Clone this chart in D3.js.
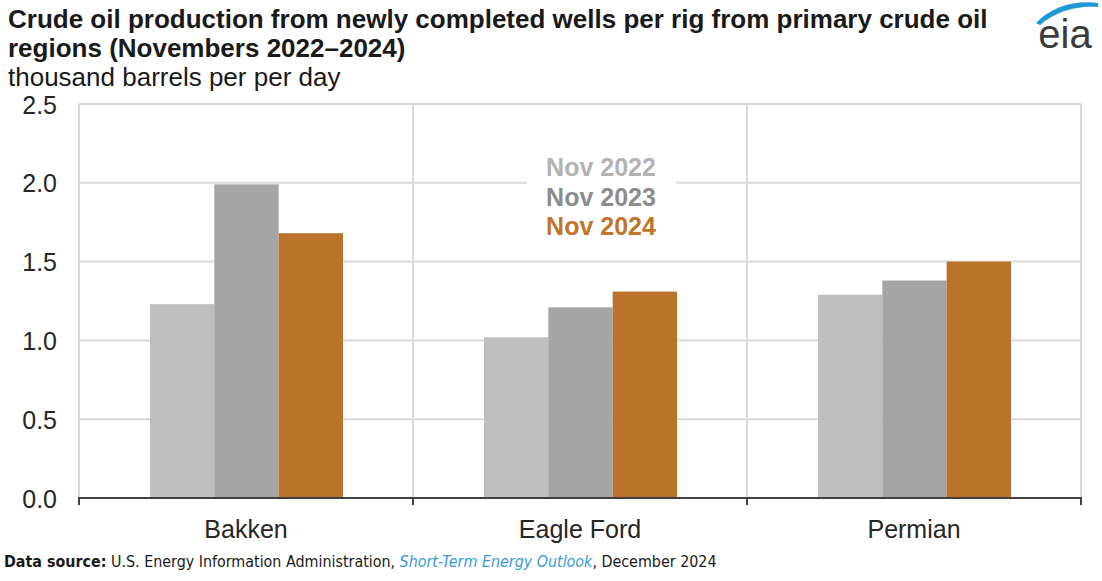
<!DOCTYPE html>
<html>
<head>
<meta charset="utf-8">
<script src="https://cdn.jsdelivr.net/npm/d3@7"></script>
<style>
  html, body { margin: 0; padding: 0; background: #fff; }
  svg { display: block; font-family: "Liberation Sans", Arial, Helvetica, sans-serif; }
</style>
</head>
<body>
<svg id="chart" width="1102" height="581"></svg>
<script>
// Regions and series
const regions = ["Bakken", "Eagle Ford", "Permian"];
const seriesNames = ["Nov 2022", "Nov 2023", "Nov 2024"];
const nov2022 = [1.23, 1.02, 1.29];
const nov2023 = [1.99, 1.21, 1.38];
const nov2024 = [1.68, 1.31, 1.50];
const yTicks = [0, 0.5, 1.0, 1.5, 2.0, 2.5];

const seriesValues = [nov2022, nov2023, nov2024];
const barColors = ["#bfbfbf", "#a5a5a5", "#bb722a"];
const legendColors = ["#b2b2b2", "#8c8c8c", "#c0752b"];

const svg = d3.select("#chart");
const plot = { left: 79, right: 1081, top: 104, bottom: 498 };

const x = d3.scaleBand().domain(regions).range([plot.left, plot.right]).padding(0);
const xInner = d3.scaleBand().domain(seriesNames).range([71, 264]).padding(0);
const y = d3.scaleLinear().domain([0, 2.5]).range([plot.bottom, plot.top]);

// Horizontal gridlines
svg.append("g")
  .selectAll("line")
  .data(yTicks.filter(d => d > 0))
  .join("line")
  .attr("x1", plot.left).attr("x2", plot.right)
  .attr("y1", d => y(d)).attr("y2", d => y(d))
  .attr("stroke", "#d9d9d9").attr("stroke-width", 2);

// Vertical separators between regions
const bounds = regions.map(r => x(r)).concat([x(regions[regions.length - 1]) + x.bandwidth()]);
svg.append("g")
  .selectAll("line")
  .data(bounds)
  .join("line")
  .attr("x1", d => d).attr("x2", d => d)
  .attr("y1", plot.top).attr("y2", plot.bottom)
  .attr("stroke", "#d9d9d9").attr("stroke-width", 2);

// Bars
const rows = [];
regions.forEach((r, i) => seriesNames.forEach((s, j) => rows.push({ region: r, series: s, value: seriesValues[j][i], j })));
svg.append("g")
  .selectAll("rect")
  .data(rows)
  .join("rect")
  .attr("x", d => x(d.region) + xInner(d.series))
  .attr("width", xInner.bandwidth())
  .attr("y", d => y(d.value))
  .attr("height", d => y(0) - y(d.value))
  .attr("fill", d => barColors[d.j]);

// Y axis labels
const yAxis = d3.axisLeft(y).tickValues(yTicks).tickFormat(d3.format(".1f")).tickSize(0).tickPadding(0);
const gy = svg.append("g").attr("transform", "translate(57,0)").call(yAxis);
gy.select(".domain").remove();
gy.selectAll("text")
  .attr("font-size", 25).attr("fill", "#262626")
  .attr("font-family", "Liberation Sans, Arial, sans-serif")
  .attr("dy", "0.36em");

// X axis baseline with boundary ticks
const xAxis = d3.axisBottom(x).tickSize(0).tickPadding(0);
const gx = svg.append("g").attr("transform", `translate(0,${plot.bottom})`).call(xAxis);
gx.select(".domain").attr("stroke", "#404040").attr("stroke-width", 2)
  .attr("d", `M${plot.left},7V0H${plot.right}V7`);
gx.selectAll("text")
  .attr("font-size", 25).attr("fill", "#262626")
  .attr("font-family", "Liberation Sans, Arial, sans-serif")
  .attr("y", 40).attr("dy", 0);
svg.append("g")
  .selectAll("line")
  .data(bounds.slice(1, -1))
  .join("line")
  .attr("x1", d => d).attr("x2", d => d)
  .attr("y1", plot.bottom).attr("y2", plot.bottom + 7)
  .attr("stroke", "#404040").attr("stroke-width", 2);

// Legend
const legend = svg.append("g");
legend.append("rect")
  .attr("x", 527).attr("y", 153).attr("width", 149).attr("height", 88)
  .attr("fill", "#fff");
legend.selectAll("text")
  .data(seriesNames)
  .join("text")
  .attr("x", 601)
  .attr("y", (d, i) => 176 + i * 29.5)
  .attr("text-anchor", "middle")
  .attr("font-size", 25).attr("font-weight", "bold")
  .attr("fill", (d, i) => legendColors[i])
  .text(d => d);

// Title block
const title = svg.append("g").attr("font-weight", "bold").attr("font-size", 26).attr("fill", "#1a1a1a");
title.append("text").attr("x", 8).attr("y", 28)
  .text("Crude oil production from newly completed wells per rig from primary crude oil");
title.append("text").attr("x", 8).attr("y", 57)
  .text("regions (Novembers 2022–2024)");
svg.append("text").attr("x", 8).attr("y", 86)
  .attr("font-size", 26).attr("fill", "#1a1a1a")
  .text("thousand barrels per per day");

// Logo
const logo = svg.append("g");
logo.append("path")
  .attr("d", "M1036,23 C1052,6 1076,0 1098,3 L1098,7 C1078,5 1056,11 1040,25 Z")
  .attr("fill", "#1d9ad6");
logo.append("text").attr("x", 1065).attr("y", 48)
  .attr("text-anchor", "middle")
  .attr("font-size", 40).attr("fill", "#3b3b3b")
  .text("eia");

// Source note, sized to span the same width as the plot's footer line
const note = svg.append("text")
  .attr("x", 4).attr("y", 567)
  .attr("font-size", 17).attr("fill", "#1a1a1a")
  .attr("font-family", "'Liberation Sans Narrow', 'DejaVu Sans Condensed', 'Liberation Sans', sans-serif");
note.append("tspan").attr("font-weight", "bold").text("Data source:");
note.append("tspan").text(" U.S. Energy Information Administration, ");
note.append("tspan").attr("font-style", "italic").attr("fill", "#3a9ad9").text("Short-Term Energy Outlook");
note.append("tspan").text(", December 2024");
const noteLen = note.node().getComputedTextLength();
if (noteLen > 0) note.attr("font-size", 17 * 713 / noteLen);
</script>
</body>
</html>
